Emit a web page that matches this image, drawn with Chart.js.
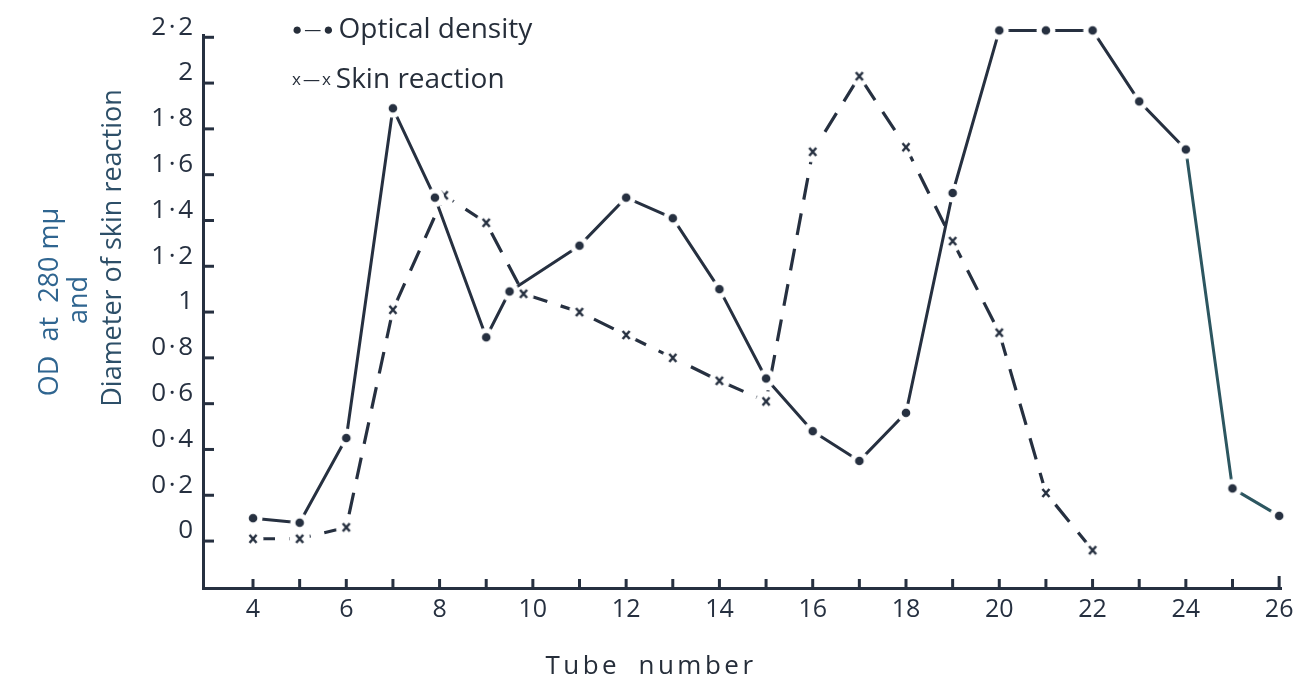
<!DOCTYPE html>
<html>
<head>
<meta charset="utf-8">
<title>Optical density and skin reaction</title>
<script src="https://cdn.jsdelivr.net/npm/chart.js@4.4.0/dist/chart.umd.min.js"></script>
<style>
  body { margin: 0; background: #fff; }
  .wrap { position: relative; width: 1309px; height: 682px; font-family: "Open Sans", sans-serif; color: #262e3a; }
  canvas { position: absolute; left: 0; top: 0; }
  .ytitle { position: absolute; white-space: nowrap; font-size: 27px; transform: translate(-50%, -50%) rotate(-90deg); }
  .xtitle { position: absolute; left: 651px; top: 664px; transform: translate(-50%, -50%); font-size: 26px; letter-spacing: 3.5px; word-spacing: 8px; white-space: nowrap; }
  .legend { position: absolute; left: 292px; font-size: 28px; white-space: nowrap; }
  .legend .sym { font-size: 17px; letter-spacing: 2px; margin-right: 3px; position: relative; top: -3px; }
</style>
</head>
<body>
<div class="wrap">
  <canvas id="myChart" width="1309" height="682"></canvas>
  <div class="ytitle" style="left:47px; top:302px; color:#2f6590;">OD&nbsp; at&nbsp; 280 mμ</div>
  <div class="ytitle" style="left:76px; top:300px; color:#2f6590;">and</div>
  <div class="ytitle" style="left:110px; top:248px; color:#2d4f68;">Diameter of skin reaction</div>
  <div class="legend" style="top:8px;"><span class="sym">●—●</span>Optical density</div>
  <div class="legend" style="top:58px;"><span class="sym">x—x</span>Skin reaction</div>
  <div class="xtitle">Tube number</div>
</div>
<script>
/****************
--- VARIABLES ---
*****************/

// tube numbers and readings for optical density (dots)
const odTubes = [4, 5, 6, 7, 7.9, 9, 9.5, 11, 12, 13, 14, 15, 16, 17, 18, 19, 20, 21, 22, 23, 24, 25, 26];
const odValues = [0.10, 0.08, 0.45, 1.89, 1.50, 0.89, 1.09, 1.29, 1.50, 1.41, 1.10, 0.71, 0.48, 0.35, 0.56, 1.52, 2.23, 2.23, 2.23, 1.92, 1.71, 0.23, 0.11];

// tube numbers and readings for skin reaction (crosses)
const skinTubes = [4, 5, 6, 7, 8.1, 9, 9.8, 11, 12, 13, 14, 15, 16, 17, 18, 19, 20, 21, 22];
const skinValues = [0.01, 0.01, 0.06, 1.01, 1.51, 1.39, 1.08, 1.00, 0.90, 0.80, 0.70, 0.61, 1.70, 2.03, 1.72, 1.31, 0.91, 0.21, -0.04];

// labelled ticks
const xLabels = [4, 6, 8, 10, 12, 14, 16, 18, 20, 22, 24, 26];
const yLabels = [0, 0.2, 0.4, 0.6, 0.8, 1, 1.2, 1.4, 1.6, 1.8, 2, 2.2];

const ink = "#263040";

/*******************
  --- FUNCTIONS ---
********************/

// zip x and y arrays into chart points
const toPoints = (xs, ys) => xs.map((x, i) => ({ x: x, y: ys[i] }));

// marker with a white halo so the lines stop short of it
const makeMarker = (kind) => {
  const c = document.createElement("canvas");
  c.width = 24;
  c.height = 24;
  const g = c.getContext("2d");
  g.fillStyle = "#fff";
  g.beginPath();
  g.arc(12, 12, kind == "dot" ? 9.5 : 10.5, 0, Math.PI * 2);
  g.fill();
  g.fillStyle = ink;
  g.strokeStyle = ink;
  if (kind == "dot") {
    g.beginPath();
    g.arc(12, 12, 4.3, 0, Math.PI * 2);
    g.fill();
  } else {
    g.lineWidth = 2.5;
    g.beginPath();
    g.moveTo(8.5, 8);
    g.lineTo(15.5, 16);
    g.moveTo(15.5, 8);
    g.lineTo(8.5, 16);
    g.stroke();
  }
  return c;
};

// "1·8" style decimal points
const fmt = (v) => {
  const r = Math.round(v * 10) / 10;
  if (!yLabels.includes(r)) return "";
  return String(r).replace(".", "\u200A·\u200A");
};

// inward tick marks, drawn from the scales
const innerTicks = {
  id: "innerTicks",
  afterDraw(chart) {
    const c = chart.ctx;
    const xs = chart.scales.x;
    const ys = chart.scales.y;
    c.save();
    c.strokeStyle = ink;
    c.lineWidth = 3;
    for (let t = 4; t <= 26; t++) {
      const px = xs.getPixelForValue(t);
      c.beginPath();
      c.moveTo(px, ys.bottom);
      c.lineTo(px, ys.bottom - (t == 26 ? 12 : 9));
      c.stroke();
    }
    yLabels.forEach((v) => {
      const py = ys.getPixelForValue(v);
      c.beginPath();
      c.moveTo(xs.left, py);
      c.lineTo(xs.left + 11, py);
      c.stroke();
    });
    c.restore();
  },
};

/*******************
  --- CHART ---
********************/

const ctx = document.getElementById("myChart").getContext("2d");
const myChart = new Chart(ctx, {
  type: "line",
  data: {
    datasets: [
      {
        label: "Optical density",
        data: toPoints(odTubes, odValues),
        borderColor: ink,
        borderWidth: 3,
        borderJoinStyle: "round",
        pointStyle: makeMarker("dot"),
        pointRadius: 12,
        tension: 0,
        clip: false,
        segment: {
          borderColor: (s) => (s.p0DataIndex >= 20 ? "#2c5660" : undefined),
        },
      },
      {
        label: "Skin reaction",
        data: toPoints(skinTubes, skinValues),
        borderColor: ink,
        borderWidth: 3.2,
        borderDash: [22, 14],
        borderJoinStyle: "round",
        pointStyle: makeMarker("x"),
        pointRadius: 12,
        tension: 0,
        clip: false,
      },
    ],
  },
  options: {
    responsive: false,
    animation: false,
    devicePixelRatio: 1,
    layout: { padding: { top: 35, right: 28, left: 0, bottom: 0 } },
    plugins: { legend: { display: false }, tooltip: { enabled: false } },
    scales: {
      x: {
        type: "linear",
        min: 2.928,
        max: 26.04,
        afterFit: (s) => (s.height = 94),
        border: { display: true, color: ink, width: 3 },
        grid: { display: true, drawOnChartArea: false, drawTicks: false, color: "rgba(0,0,0,0)" },
        ticks: {
          stepSize: 1,
          includeBounds: false,
          autoSkip: false,
          maxRotation: 0,
          padding: 7,
          color: ink,
          font: { family: "Open Sans", size: 25 },
          callback: (v) => (xLabels.includes(v) ? String(v) : ""),
        },
      },
      y: {
        min: -0.205,
        max: 2.21,
        afterFit: (s) => (s.width = 203),
        border: { display: true, color: ink, width: 3 },
        grid: { display: true, drawOnChartArea: false, drawTicks: false, color: "rgba(0,0,0,0)" },
        ticks: {
          stepSize: 0.2,
          includeBounds: false,
          autoSkip: false,
          padding: 10,
          labelOffset: -10,
          color: ink,
          font: { family: "Open Sans", size: 26 },
          callback: (v) => fmt(v),
        },
      },
    },
  },
  plugins: [innerTicks],
});
</script>
</body>
</html>
